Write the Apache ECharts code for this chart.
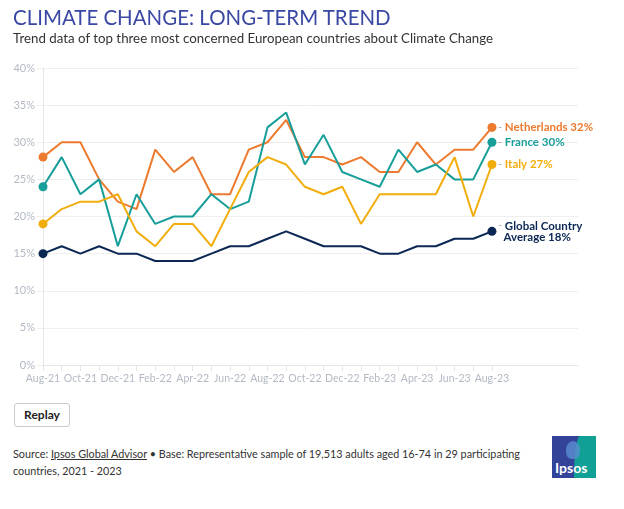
<!DOCTYPE html>
<html>
<head>
<meta charset="utf-8">
<script src="https://cdn.jsdelivr.net/npm/echarts@6/dist/echarts.min.js"></script>
<style>
  html, body { margin:0; padding:0; background:#fff; width:624px; height:509px; overflow:hidden; font-family: Lato, "Noto Sans", sans-serif; }
  #chart { position:absolute; left:0; top:0; width:624px; height:400px; }
  #title { position:absolute; left:13px; top:3px; font-size:22px; color:#3a48a4; white-space:nowrap; transform:scaleX(0.93); transform-origin:left top; }
  #sub { position:absolute; left:13px; top:29px; font-size:14px; color:#333; white-space:nowrap; transform:scaleX(0.95); transform-origin:left top; }
  #btn { position:absolute; left:14px; top:403px; width:54px; height:22px; border:1px solid #ccc; border-radius:3px; font-size:12px; font-weight:bold; color:#222; text-align:center; line-height:22px; }
  #src { position:absolute; left:13px; top:445px; width:620px; font-size:12px; line-height:17px; color:#333; white-space:nowrap; transform:scaleX(0.9); transform-origin:left top; }
  #src u { text-decoration: underline; }
  #logo { position:absolute; left:552px; top:436px; width:44px; height:42px; background:#33439a; overflow:hidden; }
  #logo .teal { position:absolute; left:22px; top:0; width:30px; height:42px; background:#11a096; border-top-left-radius: 6px 42px; }
  #logo .head { position:absolute; left:14px; top:5px; width:14px; height:18px; background:#5a8fd0; border-radius:50% 50% 40% 40%; opacity:0.8; }
  #logo .txt { position:absolute; left:3px; top:23px; font-size:14px; font-weight:bold; color:#fff; }
</style>
</head>
<body>
<div id="chart"></div>
<div id="title">CLIMATE CHANGE: LONG-TERM TREND</div>
<div id="sub">Trend data of top three most concerned European countries about Climate Change</div>
<div id="btn">Replay</div>
<div id="src">Source: <u>Ipsos Global Advisor</u> • Base: Representative sample of 19,513 adults aged 16-74 in 29 participating<br>countries, 2021 - 2023</div>
<div id="logo"><div class="teal"></div><div class="head"></div><div class="txt">Ipsos</div></div>
<script>
const months = ['Aug-21','Sep-21','Oct-21','Nov-21','Dec-21','Jan-22','Feb-22','Mar-22','Apr-22','May-22','Jun-22','Jul-22','Aug-22','Sep-22','Oct-22','Nov-22','Dec-22','Jan-23','Feb-23','Mar-23','Apr-23','May-23','Jun-23','Jul-23','Aug-23'];
const yTicks = [0,5,10,15,20,25,30,35,40];
const netherlands = [28,30,30,25,22,21,29,26,28,23,23,29,30,33,28,28,27,28,26,26,30,27,29,29,32];
const france      = [24,28,23,25,16,23,19,20,20,23,21,22,32,34,27,31,26,25,24,29,26,27,25,25,30];
const italy       = [19,21,22,22,23,18,16,19,19,16,21,26,28,27,24,23,24,19,23,23,23,23,28,20,27];
const globalAvg   = [15,16,15,16,15,15,14,14,14,15,16,16,17,18,17,16,16,16,15,15,16,16,17,17,18];

const last = months.length - 1;
const tickIdx = months.map((m, i) => i);
const labelIdx = tickIdx.filter(i => i % 2 === 0);

function mk(name, vals, color, labelText) {
  return {
    name, type:'line', data: vals.map((v, i) => [i, v]), color,
    lineStyle:{ width:2, color },
    symbol:'circle',
    symbolSize: (v, p) => (p.dataIndex === 0 || p.dataIndex === last) ? 9 : 0,
    showSymbol:true,
    itemStyle:{ color },
    emphasis:{ disabled:true },
    animation:false,
    endLabel:{
      show:true, distance:6,
      formatter: labelText,
      rich:{
        d:{ color:'#aaa', fontSize:11, fontFamily:'Lato' },
        t:{ color, fontSize:11.5, fontWeight:'bold', fontFamily:'Lato', lineHeight:11 }
      }
    }
  };
}

const chart = echarts.init(document.getElementById('chart'), null, {renderer:'canvas'});
chart.setOption({
  animation:false,
  grid:{ left:43, right:46, top:68, bottom:35 },
  xAxis:{
    type:'value', min:0, max:28.6,
    splitLine:{ show:false },
    axisLine:{ show:true, lineStyle:{ color:'#e6e6e6' } },
    axisTick:{ show:true, lineStyle:{ color:'#e6e6e6' }, length:6, customValues: tickIdx },
    axisLabel:{ color:'#b3b9c4', fontSize:10.5, fontFamily:'Lato', margin:8, customValues: labelIdx, formatter: v => months[v] }
  },
  yAxis:{
    type:'value', min:0, max:40, interval:5,
    axisLine:{ show:true, lineStyle:{ color:'#e6e6e6' } },
    axisTick:{ show:true, length:6, lineStyle:{ color:'#eee' } },
    splitLine:{ lineStyle:{ color:'#eeeeee' } },
    axisLabel:{ color:'#b3b9c4', fontSize:11, fontFamily:'Lato', margin:8, formatter:'{value}%' }
  },
  series:[
    mk('Netherlands', netherlands, '#ec7a2f', p => '{d|- }{t|Netherlands ' + netherlands[last] + '%}'),
    mk('France', france, '#179e99', p => '{d|- }{t|France ' + france[last] + '%}'),
    mk('Italy', italy, '#f1ad0c', p => '{d|- }{t|Italy ' + italy[last] + '%}'),
    mk('Global Country Average', globalAvg, '#0b2754', p => '{d|- }{t|Global Country}\n{d|  }{t|Average ' + globalAvg[last] + '%}')
  ]
});
</script>
</body>
</html>
